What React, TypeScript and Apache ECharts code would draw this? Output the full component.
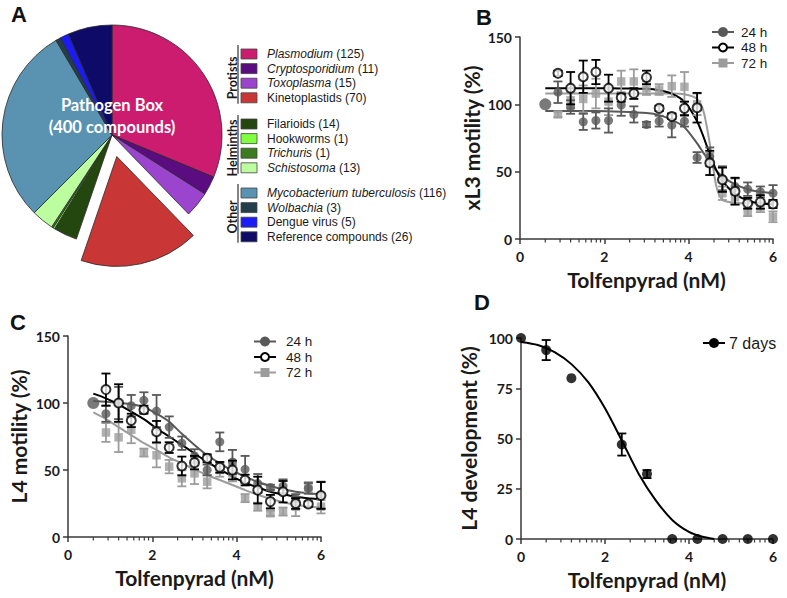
import React, { useEffect, useRef } from "react";
import * as echarts from "echarts";

// ---------- Panel A: Pathogen Box composition ----------
const pieNames = [
  "Plasmodium", "Cryptosporidium", "Toxoplasma", "Kinetoplastids",
  "Filarioids", "Hookworms", "Trichuris", "Schistosoma",
  "Mycobacterium tuberculosis", "Wolbachia", "Dengue virus", "Reference compounds",
];
const pieValues = [125, 11, 15, 70, 14, 1, 1, 13, 116, 3, 5, 26];
const pieItalic = [true, true, true, false, false, false, true, true, true, true, false, false];
const pieColors = [
  "#CB1C6F", "#5A0C80", "#9B45CF", "#C93636",
  "#23470F", "#7FFF3F", "#3D7B1F", "#BCFDA0",
  "#5A92B1", "#243D4B", "#1B1BF5", "#0E0B68",
];
const pieExploded = "Kinetoplastids";
const pieGroups = ["Protists", "Helminths", "Other"];
const pieGroupSizes = [4, 4, 4];

// ---------- Shared x values (Tolfenpyrad, nM) ----------
const doses = [0.9, 1.2, 1.5, 1.8, 2.1, 2.4, 2.7, 3.0, 3.3, 3.6, 3.9, 4.2, 4.5, 4.8, 5.1, 5.4, 5.7, 6.0];
const controlDose = [0.6];
const controlValue = [100];
const minorTickX = [
  0.60, 0.95, 1.20, 1.40, 1.56, 1.69, 1.81, 1.91,
  2.60, 2.95, 3.20, 3.40, 3.56, 3.69, 3.81, 3.91,
  4.60, 4.95, 5.20, 5.40, 5.56, 5.69, 5.81, 5.91,
];
const timeLabels = ["24 h", "48 h", "72 h"];

// ---------- Panel B: xL3 motility ----------
const bMot24 = [109, 98, 87, 88, 88, 99.5, 92.5, 85, 87.5, 84.5, 87.5, 60.5, 61, 45, 39, 37, 35, 34];
const bErr24 = [8, 5, 6, 6, 9, 8, 6, 2, 4, 9, 4, 4, 7, 9, 6, 5, 4, 6];
const bMot48 = [123, 112, 120.5, 124, 112, 105, 108, 120, 97, 91, 97, 97.5, 56.5, 44, 35.5, 26.5, 27.5, 26];
const bErr48 = [2, 12, 12, 9, 10, 3, 4, 5, 2, 2, 5, 11, 9, 9, 10, 4, 5, 3];
const bMot72 = [92.5, 103, 104, 108, 102, 117, 117, 112, 111, 113.5, 113, 100, 60, 34, 31, 20, 24, 16.5];
const bErr72 = [2, 6, 10, 11, 10, 8, 9, 5, 4, 8, 11, 8, 4, 5, 5, 3, 4, 4];
const bCurveX = [0.6, 1.2, 1.8, 2.4, 3.0, 3.3, 3.6, 3.9, 4.2, 4.35, 4.5, 4.65, 4.8, 5.1, 5.4, 5.7, 6.0];
const bFit24 = [95, 95, 95, 94.5, 93.5, 92, 88.5, 83, 71, 64, 57.5, 51, 46.5, 40.5, 37, 35, 34];
const bFit48 = [112, 112, 112, 111.8, 111.5, 110.5, 108, 102, 87.5, 76, 63, 51.5, 43, 33.5, 28.5, 26.5, 25.5];
const bFit72 = [108, 108, 108, 108, 108, 108, 108, 107.5, 104, 95, 71, 40, 29, 27, 26.5, 26.5, 26.5];

// ---------- Panel C: L4 motility ----------
const cMot24 = [92, 100, 98, 102, 94, 82, 70, 60.5, 50, 71, 56, 50.5, 40, 37, 38, 29, 36.3, 31.3];
const cErr24 = [6, 12, 8, 6, 12, 8, 5, 5, 4, 7, 9, 10, 7, 2, 5, 3, 4, 10];
const cMot48 = [110, 100, 87, 95, 78.6, 66.7, 53, 55.5, 58.7, 52, 50, 42.5, 35, 26.4, 33.8, 25, 24.6, 31];
const cErr48 = [12, 14, 5, 3, 8, 4, 7, 5, 3, 4, 7, 4, 10, 5, 8, 4, 2, 10];
const cMot72 = [78, 74.4, 80, 63, 61, 52.5, 43.8, 47.5, 41.3, 50, 47.5, 29, 22.6, 17.7, 19, 22.6, 37, 22.6];
const cErr72 = [7, 11, 10, 3, 9, 5, 6, 8, 5, 5, 6, 3, 3, 2, 3, 7, 4, 5];
const cCurveX = [0.6, 0.9, 1.2, 1.5, 1.8, 2.1, 2.4, 2.7, 3.0, 3.3, 3.6, 3.9, 4.2, 4.5, 4.8, 5.1, 5.4, 5.7, 6.0];
const cFit24 = [101.5, 101, 100, 99, 97, 92, 86, 77, 68.7, 61, 55, 49.5, 45, 41, 38, 35.6, 33.8, 32.6, 31.8];
const cFit48 = [107, 103.5, 99, 93.5, 88, 81, 75, 68.7, 62.4, 56, 50.5, 45, 40.5, 37, 33.8, 31.8, 30, 28.9, 28];
const cFit72 = [93, 88, 82, 76, 70, 65, 59.5, 55, 50.5, 46.3, 42.5, 38.8, 35, 31.5, 28.5, 26, 24, 22.8, 22];

// ---------- Panel D: L4 development ----------
const dLabel = "7 days";
const dDoses = [0, 0.6, 1.2, 2.4, 3.0, 3.6, 4.2, 4.8, 5.4, 6.0];
const dDev = [100, 94, 80, 47, 32.3, 0, 0, 0, 0, 0];
const dErr = [0, 5, 0, 5.5, 2, 0, 0, 0, 0, 0];
const dCurveX = [0, 0.4, 0.8, 1.2, 1.6, 2.0, 2.4, 2.8, 3.2, 3.6, 4.0, 4.3, 4.6];
const dFit = [98, 96.5, 93, 87, 78, 65, 49, 32.5, 19.5, 9.5, 3.5, 1.2, 0];

const FONT = "Lato, 'Open Sans', sans-serif";
const LEG_FONT = "'Liberation Sans', Arial, sans-serif";
const AXIS_COLOR = "#3a3a3a";
const TEXT_COLOR = "#1a1a1a";
const C24 = "#595959";
const C48 = "#000000";
const C72 = "#9c9c9c";

function zip2(xs: number[], ys: number[]) {
  return xs.map((x, i) => [x, ys[i]]);
}
function zip3(xs: number[], ys: number[], es: number[]) {
  return xs.map((x, i) => [x, ys[i], es[i]]);
}

function errorBarSeries(gi: number, data: number[][], color: string, z: number) {
  return {
    type: "custom",
    xAxisIndex: gi,
    yAxisIndex: gi,
    z,
    clip: false,
    silent: true,
    data,
    renderItem: (params: any, api: any) => {
      const x = api.value(0);
      const y = api.value(1);
      const e = api.value(2);
      if (!e) return null;
      const top = api.coord([x, y + e]);
      const bot = api.coord([x, y - e]);
      const cw = 4.5;
      const st = { stroke: color, lineWidth: 1.8, fill: "none" };
      return {
        type: "group",
        children: [
          { type: "line", shape: { x1: top[0], y1: top[1], x2: bot[0], y2: bot[1] }, style: st },
          { type: "line", shape: { x1: top[0] - cw, y1: top[1], x2: top[0] + cw, y2: top[1] }, style: st },
          { type: "line", shape: { x1: bot[0] - cw, y1: bot[1], x2: bot[0] + cw, y2: bot[1] }, style: st },
        ],
      };
    },
  };
}

function minorTickSeries(gi: number) {
  return {
    type: "custom",
    xAxisIndex: gi,
    yAxisIndex: gi,
    clip: false,
    silent: true,
    z: 1,
    data: minorTickX.map((x) => [x, 0]),
    renderItem: (params: any, api: any) => {
      const p = api.coord([api.value(0), 0]);
      return {
        type: "line",
        shape: { x1: p[0], y1: p[1], x2: p[0], y2: p[1] + 3.5 },
        style: { stroke: AXIS_COLOR, lineWidth: 1.2 },
      };
    },
  };
}

function curveSeries(gi: number, xs: number[], ys: number[], color: string, z: number) {
  return {
    type: "line",
    xAxisIndex: gi,
    yAxisIndex: gi,
    data: zip2(xs, ys),
    showSymbol: false,
    smooth: 0.25,
    clip: false,
    silent: true,
    z,
    lineStyle: { color, width: 2 },
  };
}

function pointSeries(gi: number, data: number[][], kind: string, z: number, size?: number) {
  const base: any = {
    type: "scatter",
    xAxisIndex: gi,
    yAxisIndex: gi,
    data,
    clip: false,
    silent: true,
    z,
  };
  if (kind === "24") {
    base.symbol = "circle";
    base.symbolSize = size || 9;
    base.itemStyle = { color: C24 };
  } else if (kind === "48") {
    base.symbol = "circle";
    base.symbolSize = 9;
    base.itemStyle = { color: "#ffffff", borderColor: C48, borderWidth: 2 };
  } else if (kind === "72") {
    base.symbol = "rect";
    base.symbolSize = 8.5;
    base.itemStyle = { color: C72 };
  } else {
    base.symbol = "circle";
    base.symbolSize = size || 10;
    base.itemStyle = { color: "#000" };
  }
  return base;
}

function xAxis(gi: number) {
  return {
    type: "value",
    gridIndex: gi,
    min: 0,
    max: 6,
    interval: 2,
    axisLine: { show: true, onZero: false, lineStyle: { color: AXIS_COLOR, width: 1.5 } },
    axisTick: { show: true, length: 5, lineStyle: { color: AXIS_COLOR, width: 1.5 } },
    axisLabel: { color: TEXT_COLOR, fontFamily: FONT, fontWeight: "bold", fontSize: 14, margin: 10 },
    splitLine: { show: false },
    name: "Tolfenpyrad (nM)",
    nameLocation: "middle",
    nameGap: 30,
    nameTextStyle: { fontFamily: FONT, fontWeight: "bold", fontSize: 21, color: TEXT_COLOR },
  };
}

function yAxis(gi: number, max: number, interval: number, name: string, gap: number) {
  return {
    type: "value",
    gridIndex: gi,
    min: 0,
    max,
    interval,
    axisLine: { show: true, onZero: false, lineStyle: { color: AXIS_COLOR, width: 1.5 } },
    axisTick: { show: true, length: 5, lineStyle: { color: AXIS_COLOR, width: 1.5 } },
    axisLabel: { color: TEXT_COLOR, fontFamily: FONT, fontWeight: "bold", fontSize: 14, margin: 8 },
    splitLine: { show: false },
    name,
    nameLocation: "middle",
    nameGap: gap,
    nameTextStyle: { fontFamily: FONT, fontWeight: "bold", fontSize: 21, color: TEXT_COLOR },
  };
}

function legendIcon(cx: number, cy: number, kind: string) {
  const color = kind === "24" ? C24 : kind === "48" ? C48 : kind === "72" ? C72 : "#000";
  const out: any[] = [
    { type: "line", shape: { x1: cx - 11, y1: cy, x2: cx + 11, y2: cy }, style: { stroke: color, lineWidth: 2 } },
  ];
  if (kind === "72") {
    out.push({ type: "rect", shape: { x: cx - 4.5, y: cy - 4.5, width: 9, height: 9 }, style: { fill: color } });
  } else if (kind === "48") {
    out.push({ type: "circle", shape: { cx, cy, r: 4 }, style: { fill: "#fff", stroke: color, lineWidth: 2 } });
  } else {
    out.push({ type: "circle", shape: { cx, cy, r: 5 }, style: { fill: color } });
  }
  return out;
}

function timeLegend(cx: number, cy0: number, step: number, textX: number) {
  const kinds = ["24", "48", "72"];
  const out: any[] = [];
  kinds.forEach((k, i) => {
    const cy = cy0 + i * step;
    out.push(...legendIcon(cx, cy, k));
    out.push({
      type: "text",
      x: textX,
      y: cy,
      style: {
        text: timeLabels[i],
        fill: TEXT_COLOR,
        font: `13.5px ${LEG_FONT}`,
        verticalAlign: "middle",
        align: "left",
      },
    });
  });
  return out;
}

function buildPieLegend() {
  const out: any[] = [];
  const rowStep = 14.6;
  const groupStarts = [54, 124, 193];
  let idx = 0;
  pieGroups.forEach((g, gi) => {
    const n = pieGroupSizes[gi];
    const y0 = groupStarts[gi];
    const yEnd = y0 + (n - 1) * rowStep;
    out.push({
      type: "line",
      shape: { x1: 238, y1: y0 - 9, x2: 238, y2: yEnd + 6 },
      style: { stroke: "#333", lineWidth: 1.2 },
    });
    out.push({
      type: "text",
      x: 232,
      y: (y0 + yEnd) / 2 + 2,
      rotation: Math.PI / 2,
      style: {
        text: g,
        fill: TEXT_COLOR,
        font: `bold 12.5px ${FONT}`,
        align: "center",
        verticalAlign: "middle",
      },
    });
    for (let k = 0; k < n; k++) {
      const i = idx + k;
      const y = y0 + k * rowStep;
      out.push({
        type: "rect",
        shape: { x: 241, y: y - 5, width: 16, height: 10 },
        style: { fill: pieColors[i], stroke: "#444", lineWidth: 0.8 },
      });
      const txt = pieItalic[i]
        ? `{i|${pieNames[i]}}{n| (${pieValues[i]})}`
        : `{n|${pieNames[i]} (${pieValues[i]})}`;
      out.push({
        type: "text",
        x: 267,
        y,
        style: {
          text: txt,
          verticalAlign: "middle",
          align: "left",
          rich: {
            i: { fontFamily: LEG_FONT, fontStyle: "italic", fontSize: 12, fill: TEXT_COLOR },
            n: { fontFamily: LEG_FONT, fontSize: 12, fill: TEXT_COLOR },
          },
        },
      });
    }
    idx += n;
  });
  return out;
}

export default function App() {
  const ref = useRef<HTMLDivElement>(null);
  useEffect(() => {
    if (!ref.current) return;
    const chart = echarts.init(ref.current, undefined, { renderer: "svg" });

    const letter = (t: string, x: number, y: number) => ({
      type: "text",
      x,
      y,
      style: { text: t, fill: "#111", font: "bold 22px 'Liberation Sans', Arial, sans-serif" },
    });

    const graphic: any[] = [
      letter("A", 11, 3),
      letter("B", 476, 6),
      letter("C", 10, 311),
      letter("D", 474, 291),
      {
        type: "text",
        x: 112,
        y: 105,
        z: 100,
        style: { text: "Pathogen Box", fill: "#fff", font: `bold 16.5px ${FONT}`, align: "center", verticalAlign: "middle" },
      },
      {
        type: "text",
        x: 112,
        y: 127,
        z: 100,
        style: { text: "(400 compounds)", fill: "#fff", font: `bold 16.5px ${FONT}`, align: "center", verticalAlign: "middle" },
      },
      ...buildPieLegend(),
      ...timeLegend(723, 32, 15.5, 741),
      ...timeLegend(265, 341.5, 15.5, 286),
      ...legendIcon(714, 343, "d"),
      {
        type: "text",
        x: 729,
        y: 343,
        style: { text: dLabel, fill: TEXT_COLOR, font: `16px ${LEG_FONT}`, verticalAlign: "middle", align: "left" },
      },
    ];

    const option: any = {
      animation: false,
      backgroundColor: "#ffffff",
      textStyle: { fontFamily: FONT },
      grid: [
        { left: 520, top: 37, width: 253, height: 202 },
        { left: 68, top: 336, width: 253, height: 201 },
        { left: 521, top: 338, width: 252, height: 201 },
      ],
      xAxis: [xAxis(0), xAxis(1), xAxis(2)],
      yAxis: [
        yAxis(0, 150, 50, "xL3 motility (%)", 38),
        yAxis(1, 150, 50, "L4 motility (%)", 39),
        yAxis(2, 100, 25, "L4 development (%)", 42),
      ],
      graphic,
      series: [
        {
          type: "pie",
          center: [112, 135],
          radius: 110,
          startAngle: 90,
          clockwise: true,
          selectedMode: "single",
          selectedOffset: 22,
          silent: true,
          label: { show: false },
          labelLine: { show: false },
          itemStyle: { borderColor: "#2a2a2a", borderWidth: 0.8 },
          data: pieNames.map((n, i) => ({
            name: n,
            value: pieValues[i],
            selected: n === pieExploded,
            itemStyle: { color: pieColors[i] },
          })),
        },
        // Panel B
        minorTickSeries(0),
        curveSeries(0, bCurveX, bFit72, C72, 2),
        curveSeries(0, bCurveX, bFit24, C24, 2),
        curveSeries(0, bCurveX, bFit48, C48, 2),
        errorBarSeries(0, zip3(doses, bMot72, bErr72), C72, 3),
        pointSeries(0, zip2(doses, bMot72), "72", 4),
        errorBarSeries(0, zip3(doses, bMot24, bErr24), C24, 5),
        pointSeries(0, zip2(doses, bMot24), "24", 6),
        errorBarSeries(0, zip3(doses, bMot48, bErr48), C48, 7),
        pointSeries(0, zip2(doses, bMot48), "48", 8),
        pointSeries(0, zip2(controlDose, controlValue), "24", 9, 12),
        // Panel C
        minorTickSeries(1),
        curveSeries(1, cCurveX, cFit72, C72, 2),
        curveSeries(1, cCurveX, cFit24, C24, 2),
        curveSeries(1, cCurveX, cFit48, C48, 2),
        errorBarSeries(1, zip3(doses, cMot72, cErr72), C72, 3),
        pointSeries(1, zip2(doses, cMot72), "72", 4),
        errorBarSeries(1, zip3(doses, cMot24, cErr24), C24, 5),
        pointSeries(1, zip2(doses, cMot24), "24", 6),
        errorBarSeries(1, zip3(doses, cMot48, cErr48), C48, 7),
        pointSeries(1, zip2(doses, cMot48), "48", 8),
        pointSeries(1, zip2(controlDose, controlValue), "24", 9, 12),
        // Panel D
        minorTickSeries(2),
        curveSeries(2, dCurveX, dFit, "#000", 2),
        errorBarSeries(2, zip3(dDoses, dDev, dErr), "#000", 3),
        pointSeries(2, zip2(dDoses, dDev), "d", 4, 10),
      ],
    };
    chart.setOption(option);
    return () => chart.dispose();
  }, []);

  return (
    <div
      ref={ref}
      style={{ position: "absolute", left: 0, top: 0, width: 787, height: 598, background: "#fff" }}
    />
  );
}
